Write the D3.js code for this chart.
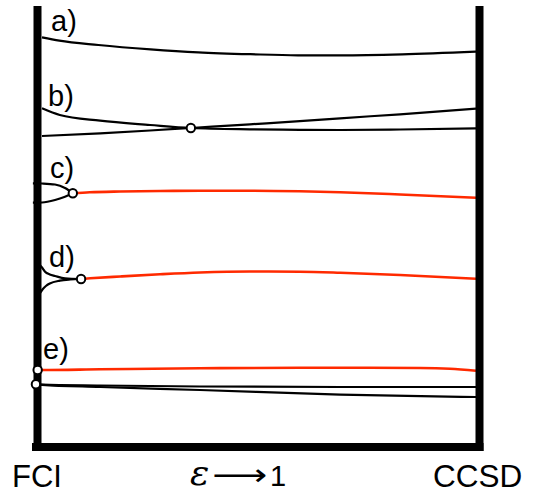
<!DOCTYPE html>
<html>
<head>
<meta charset="utf-8">
<script src="https://cdn.jsdelivr.net/npm/d3@7"></script>
<style>
  html, body { margin: 0; padding: 0; background: #fff; }
  svg { display: block; }
  text { font-family: "Liberation Sans", Arial, Helvetica, sans-serif; fill: #000; }
</style>
</head>
<body>
<svg id="chart" width="534" height="493"></svg>
<script>
// ---- data (ε from 0 = FCI to 1 = CCSD; energy in arbitrary units) ----
const panelLabels = ["a)", "b)", "c)", "d)", "e)"];
const axisLabels = ["FCI", "CCSD"];
const epsLabel = ["ε", "⟶", "1"];

// a) single state
const aEps = [0, 0.04, 0.13, 0.25, 0.36, 0.48, 0.59, 0.69, 0.83, 1];
const aE   = [9.290, 9.213, 9.116, 9.018, 8.950, 8.907, 8.882, 8.882, 8.905, 8.964];

// b) two states crossing
const b1Eps = [0, 0.041, 0.134, 0.249, 0.343, 0.479, 0.594, 0.687, 0.825, 1];
const b1E   = [7.680, 7.528, 7.399, 7.302, 7.234, 7.204, 7.193, 7.188, 7.200, 7.227];
const b2Eps = [0, 0.134, 0.249, 0.343, 0.479, 0.594, 0.687, 0.825, 1];
const b2E   = [7.052, 7.113, 7.177, 7.234, 7.317, 7.388, 7.454, 7.544, 7.671];
const bCross = [0.343, 7.234];

// c) two states merging into one (black), continuing as one (red)
const c1Eps = [-0.021, 0, 0.030, 0.053, 0.071];
const c1E   = [5.980, 5.975, 5.952, 5.873, 5.753];
const c2Eps = [-0.021, 0, 0.030, 0.053, 0.071];
const c2E   = [5.540, 5.544, 5.601, 5.676, 5.753];
const cRedEps = [0.071, 0.110, 0.180, 0.272, 0.364, 0.479, 0.594, 0.687, 0.825, 1];
const cRedE   = [5.753, 5.776, 5.794, 5.805, 5.812, 5.812, 5.798, 5.776, 5.726, 5.653];
const cMerge = [0.071, 5.753];

// d) cusp merging
const d1Eps = [-0.005, 0, 0.007, 0.018, 0.030, 0.053, 0.090];
const d1E   = [4.127, 4.070, 3.975, 3.912, 3.878, 3.825, 3.810];
const d2Eps = [-0.005, 0.002, 0.009, 0.018, 0.041, 0.065, 0.090];
const d2E   = [3.485, 3.583, 3.651, 3.707, 3.771, 3.798, 3.810];
const dRedEps = [0.090, 0.111, 0.180, 0.272, 0.364, 0.479, 0.594, 0.687, 0.825, 1];
const dRedE   = [3.810, 3.825, 3.866, 3.916, 3.957, 3.980, 3.975, 3.952, 3.900, 3.816];
const dMerge = [0.090, 3.810];

// e) states starting at FCI
const eRedEps = [-0.01, 0, 0.134, 0.364, 0.594, 0.687, 0.871, 0.940, 1];
const eRedE   = [1.746, 1.746, 1.762, 1.785, 1.796, 1.798, 1.791, 1.773, 1.730];
const e1Eps = [-0.014, 0, 0.134, 0.364, 0.687, 1];
const e1E   = [1.422, 1.415, 1.395, 1.372, 1.361, 1.361];
const e2Eps = [-0.014, 0, 0.134, 0.364, 0.687, 1];
const e2E   = [1.422, 1.410, 1.361, 1.293, 1.186, 1.134];
const eStarts = [[-0.01, 1.746], [-0.014, 1.422]];

// ---- drawing ----
const svg = d3.select("#chart");
const x = d3.scaleLinear().domain([0, 1]).range([42, 476]);
const y = d3.scaleLinear().domain([0, 10]).range([447, 6]);

const zip = (xs, ys) => xs.map((v, i) => [v, ys[i]]);
const line = d3.line().x(d => x(d[0])).y(d => y(d[1])).curve(d3.curveMonotoneX);

const BLACK = "#000";
const RED = "#ff2a00";

function curve(xs, ys, color, w) {
  svg.append("path")
    .attr("d", line(zip(xs, ys)))
    .attr("fill", "none")
    .attr("stroke", color)
    .attr("stroke-width", w)
    .attr("stroke-linecap", "butt");
}

curve(aEps, aE, BLACK, 2.2);
curve(b1Eps, b1E, BLACK, 2.2);
curve(b2Eps, b2E, BLACK, 2.2);
curve(c1Eps, c1E, BLACK, 2.2);
curve(c2Eps, c2E, BLACK, 2.2);
curve(cRedEps, cRedE, RED, 2.6);
curve(d1Eps, d1E, BLACK, 2.2);
curve(d2Eps, d2E, BLACK, 2.2);
curve(dRedEps, dRedE, RED, 2.6);
curve(e1Eps, e1E, BLACK, 2.2);
curve(e2Eps, e2E, BLACK, 2.2);
curve(eRedEps, eRedE, RED, 2.6);

// frame (thick bars)
const frame = svg.append("g").attr("stroke", BLACK).attr("fill", "none");
frame.append("line")
  .attr("x1", x(0) - 4.5).attr("x2", x(0) - 4.5)
  .attr("y1", y(10)).attr("y2", y(0) + 4)
  .attr("stroke-width", 8);
frame.append("line")
  .attr("x1", x(1) + 3.5).attr("x2", x(1) + 3.5)
  .attr("y1", y(10)).attr("y2", y(0) + 4)
  .attr("stroke-width", 8);
frame.append("line")
  .attr("x1", x(0) - 10).attr("x2", x(1) + 7.5)
  .attr("y1", y(0)).attr("y2", y(0))
  .attr("stroke-width", 8);

// circles
const pts = [bCross, cMerge, dMerge].concat(eStarts);
svg.append("g").selectAll("circle").data(pts).join("circle")
  .attr("cx", d => x(d[0])).attr("cy", d => y(d[1]))
  .attr("r", 4.2)
  .attr("fill", "#fff").attr("stroke", BLACK).attr("stroke-width", 2);

// panel labels
const labelPos = [[51, 31], [48, 106], [50, 178], [49, 267], [43, 359]];
svg.append("g").selectAll("text").data(panelLabels).join("text")
  .attr("x", (d, i) => labelPos[i][0])
  .attr("y", (d, i) => labelPos[i][1])
  .attr("font-size", 29)
  .text(d => d);

// axis labels
svg.append("text").attr("x", 12).attr("y", 487).attr("font-size", 31).text(axisLabels[0]);
svg.append("text").attr("x", 433).attr("y", 487).attr("font-size", 31.5).text(axisLabels[1]);

// ε ⟶ 1
svg.append("text").attr("x", 190).attr("y", 485)
  .style("font-family", "'DejaVu Serif', 'Liberation Serif', serif")
  .style("font-style", "italic")
  .attr("font-size", 36).text(epsLabel[0]);
svg.append("text")
  .attr("transform", "translate(212,485) scale(1.28,1)")
  .style("font-family", "'DejaVu Sans', sans-serif")
  .attr("font-size", 30)
  .text(epsLabel[1]);
svg.append("text").attr("x", 270).attr("y", 486).attr("font-size", 29).text(epsLabel[2]);
</script>
</body>
</html>
